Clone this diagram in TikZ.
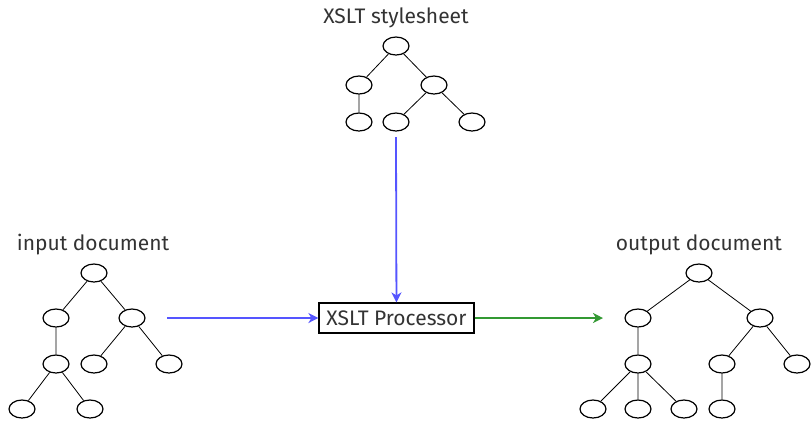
\documentclass[tikz,border=0pt]{standalone}
\usepackage{fontspec}
\setmainfont{Fira Sans}
\usetikzlibrary{shapes.geometric,arrows.meta}
\definecolor{txtgray}{RGB}{51,51,51}
\definecolor{inblue}{RGB}{85,85,255}
\definecolor{outgreen}{RGB}{51,153,51}
\tikzset{
  leaf/.style={draw,ellipse,inner sep=0pt,minimum width=13pt,minimum height=9pt,line width=0.6pt},
  label/.style={text=txtgray,font=\fontsize{10.5}{12}\selectfont},
  procbox/.style={draw,line width=0.6pt,text=txtgray,font=\fontsize{10.5}{12}\selectfont,minimum width=77.5pt,minimum height=15pt,inner sep=0pt},
  flow/.style={line width=0.9pt,-{Stealth[length=5pt,width=5pt,inset=1.5pt]}}
}
\begin{document}
\begin{tikzpicture}[x=0.5pt,y=-0.5pt]
    \useasboundingbox (0,0) rectangle (811,420);
    % stylesheet tree
    \node[label](sl) at (396,18) {XSLT stylesheet};
    \node[leaf](s) at (396,46) {};
    \node[leaf](sa) at (359,85) {};
    \node[leaf](sb) at (434,85) {};
    \node[leaf](saa) at (359,122) {};
    \node[leaf](sba) at (396,122) {};
    \node[leaf](sbb) at (472,122) {};
    \draw (s)--(sa) (s)--(sb) (sa)--(saa) (sb)--(sba) (sb)--(sbb);
    % input tree
    \node[label](il) at (93,245) {input document};
    \node[leaf](i) at (94,273) {};
    \node[leaf](ia) at (56,318) {};
    \node[leaf](ib) at (132,318) {};
    \node[leaf](iaa) at (56,364) {};
    \node[leaf](iba) at (94,364) {};
    \node[leaf](ibb) at (169,364) {};
    \node[leaf](iaaa) at (22,409) {};
    \node[leaf](iaab) at (90,409) {};
    \draw (i)--(ia) (i)--(ib) (ia)--(iaa) (ib)--(iba) (ib)--(ibb)
          (iaa)--(iaaa) (iaa)--(iaab);
    % output tree
    \node[label](ol) at (699,245) {output document};
    \node[leaf](o) at (699,273) {};
    \node[leaf](oa) at (638,318) {};
    \node[leaf](ob) at (760,318) {};
    \node[leaf](oaa) at (638,364) {};
    \node[leaf](oba) at (722,364) {};
    \node[leaf](obb) at (797,364) {};
    \node[leaf](oaaa) at (593,409) {};
    \node[leaf](oaab) at (638,409) {};
    \node[leaf](oaac) at (684,409) {};
    \node[leaf](obaa) at (722,409) {};
    \draw (o)--(oa) (o)--(ob) (oa)--(oaa) (ob)--(oba) (ob)--(obb)
          (oaa)--(oaaa) (oaa)--(oaab) (oaa)--(oaac) (oba)--(obaa);
    % processor and flows
    \node[procbox](p) at (396.5,318) {XSLT Processor};
    \coordinate(in) at (167,318);
    \coordinate(st) at (396,137);
    \coordinate(out) at (603,318);
    \draw[flow,inblue](in)--(p);
    \draw[flow,inblue](st)--(p);
    \draw[flow,outgreen](p)--(out);
\end{tikzpicture}
\end{document}
